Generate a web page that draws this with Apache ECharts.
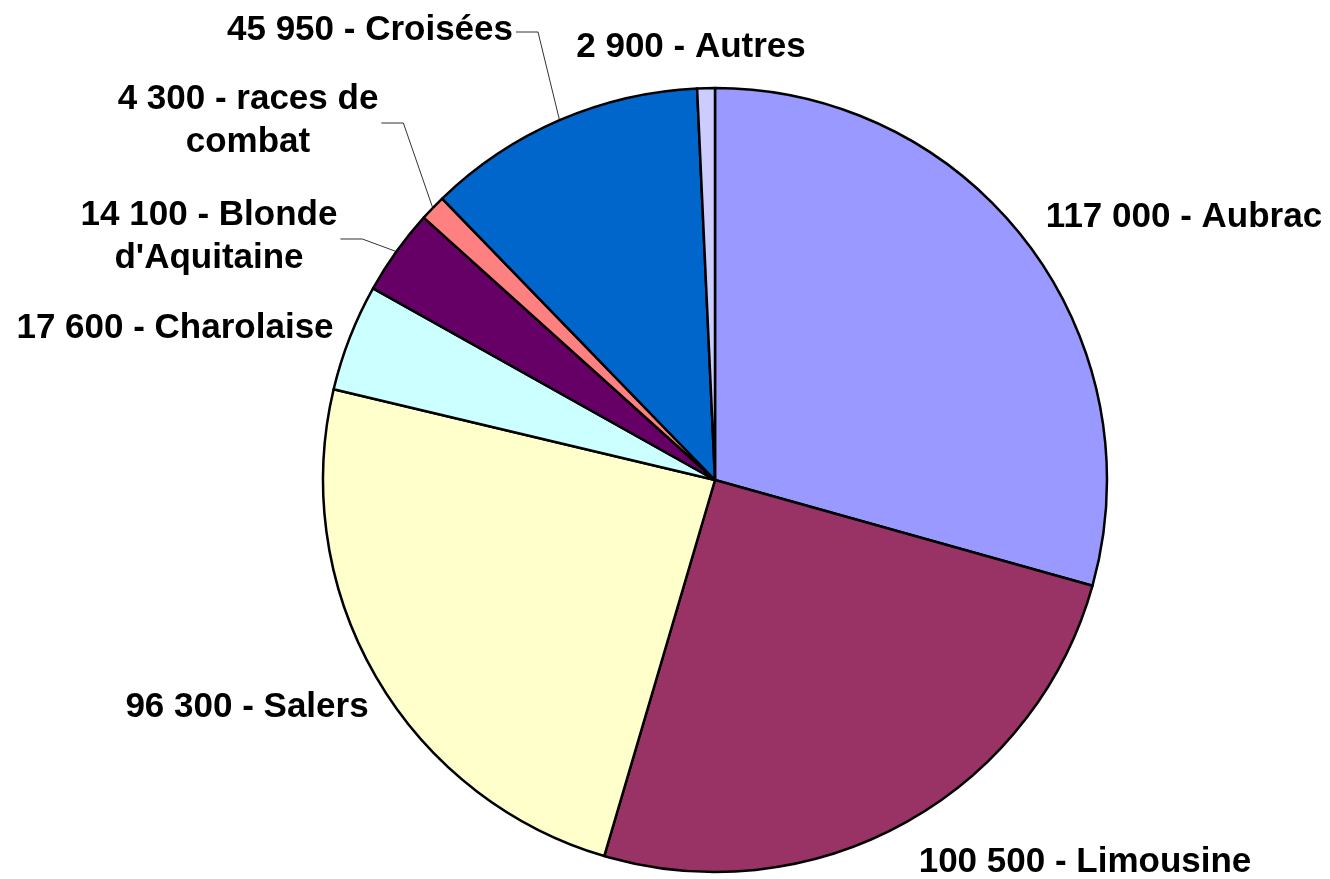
<!DOCTYPE html>
<html>
<head>
<meta charset="utf-8">
<script src="https://cdn.jsdelivr.net/npm/echarts@6/dist/echarts.min.js"></script>
<style>
  html, body { margin: 0; padding: 0; background: #fff; }
  #chart { width: 1330px; height: 879px; }
</style>
</head>
<body>
<div id="chart"></div>
<script>
// races bovines (effectifs)
var races = ['Aubrac', 'Limousine', 'Salers', 'Charolaise', "Blonde\nd'Aquitaine", 'races de\ncombat', 'Croisées', 'Autres'];
var effectifs = [117000, 100500, 96300, 17600, 14100, 4300, 45950, 2900];
var couleurs = ['#9999FF', '#993366', '#FFFFCC', '#CCFFFF', '#660066', '#FF8080', '#0066CC', '#CCCCFF'];

// position des etiquettes (centre du texte) et lignes de rappel
var labelPos = [[1184, 217], [1085, 862], [247, 707], [175, 328], [209, 237], [248, 121], [370, 30], [691, 47]];
var withLine = [false, false, false, false, true, true, true, false];

var cx = 715, cy = 480, rayon = 392;

function fmt(v) {
    return String(v).replace(/\B(?=(\d{3})+(?!\d))/g, ' ');
}

var total = effectifs.reduce(function (a, b) { return a + b; }, 0);

function midAngle(idx) {
    var cum = 0;
    for (var i = 0; i < idx; i++) cum += effectifs[i];
    return (cum + effectifs[idx] / 2) / total * Math.PI * 2;
}

var pieData = [];
for (var i = 0; i < races.length; i++) {
    var lbl = fmt(effectifs[i]) + ' - ' + races[i];
    pieData.push({
        name: races[i],
        value: effectifs[i],
        itemStyle: { color: couleurs[i] },
        label: { formatter: lbl },
        labelLine: { show: withLine[i] }
    });
}

var myChart = echarts.init(document.getElementById('chart'));
var option = {
    backgroundColor: '#ffffff',
    animation: false,
    series: [{
        type: 'pie',
        center: [cx, cy],
        radius: rayon,
        startAngle: 90,
        clockwise: true,
        avoidLabelOverlap: false,
        minShowLabelAngle: 0,
        data: pieData,
        itemStyle: {
            borderColor: '#000000',
            borderWidth: 2.5
        },
        label: {
            show: true,
            position: 'outside',
            color: '#000000',
            fontFamily: 'Liberation Sans, Arial, sans-serif',
            fontWeight: 'bold',
            fontSize: 35,
            lineHeight: 43,
            align: 'center'
        },
        labelLine: {
            lineStyle: { color: '#333333', width: 1 }
        },
        labelLayout: function (params) {
            var idx = params.dataIndex;
            var p = labelPos[idx];
            var res = { x: p[0], y: p[1], align: 'center', verticalAlign: 'middle' };
            if (withLine[idx]) {
                var a = midAngle(idx);
                var ax = cx + rayon * Math.sin(a);
                var ay = cy - rayon * Math.cos(a);
                var right = p[0] + params.labelRect.width / 2;
                res.labelLinePoints = [[ax, ay], [right + 25, p[1] + 2], [right + 3, p[1] + 2]];
            }
            return res;
        }
    }]
};
myChart.setOption(option);
</script>
</body>
</html>
